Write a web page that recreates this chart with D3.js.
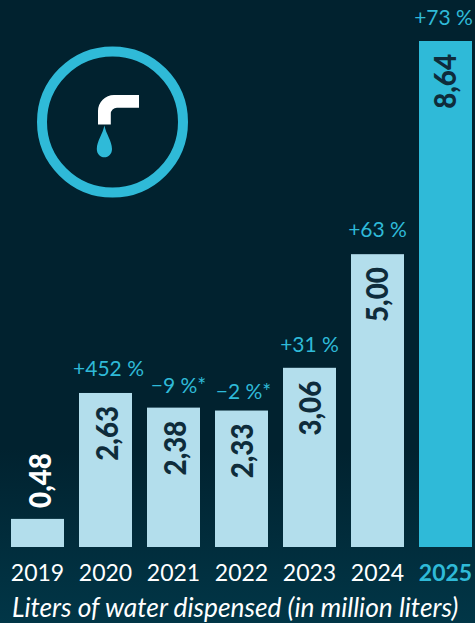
<!DOCTYPE html>
<html>
<head>
<meta charset="utf-8">
<script src="https://cdn.jsdelivr.net/npm/d3@7/dist/d3.min.js"></script>
<style>
  html, body { margin: 0; padding: 0; background: #01222f; }
  svg { display: block; }
  text { font-family: Lato, "Open Sans", sans-serif; }
</style>
</head>
<body>
<svg id="chart" width="475" height="623"></svg>
<script>
const years = ["2019", "2020", "2021", "2022", "2023", "2024", "2025"];
const liters = [0.48, 2.63, 2.38, 2.33, 3.06, 5.00, 8.64];
const valueLabels = ["0,48", "2,63", "2,38", "2,33", "3,06", "5,00", "8,64"];
const changeLabels = ["", "+452 %", "−9 %*", "−2 %*", "+31 %", "+63 %", "+73 %"];
const caption = "Liters of water dispensed (in million liters)";

const W = 475, H = 623, baseY = 547;
const CYAN = "#2fbad8", PALE = "#b3deec", INK = "#0e2c3b";

// Distance of each change label's baseline above its bar, and its sideways shift
const changeLift = [0, 17, 15, 12, 16, 17, 16];
const changeShift = [0, 3, 5, 2, 0, 0, -2];
// Offset of each rotated value's baseline from the bar's centre line
const valueShift = [13, 12.8, 12.5, 11.8, 11, 10.8, 10.5];

const svg = d3.select("#chart");
const defs = svg.append("defs");
const bg = defs.append("linearGradient").attr("id", "bg")
  .attr("x1", 0).attr("y1", 0).attr("x2", 0).attr("y2", 1);
bg.append("stop").attr("offset", 0.72).attr("stop-color", "#01222f");
bg.append("stop").attr("offset", 1).attr("stop-color", "#013647");
svg.append("rect").attr("width", W).attr("height", H).attr("fill", "url(#bg)");

const x = d3.scaleBand().domain(years).range([11, 472]).paddingInner(15 / 68).paddingOuter(0);
const y = d3.scaleLinear().domain([0, 8.64]).range([baseY, 41]);

// Bars
svg.append("g").selectAll("rect").data(years).join("rect")
  .attr("x", d => x(d))
  .attr("width", x.bandwidth())
  .attr("y", (d, i) => y(liters[i]))
  .attr("height", (d, i) => baseY - y(liters[i]))
  .attr("fill", (d, i) => i === years.length - 1 ? CYAN : PALE);

// Rotated value labels: inside the bar, or above it when the bar is too short
svg.append("g").selectAll("text").data(years).join("text")
  .attr("transform", (d, i) => {
    const inside = liters[i] > 1;
    const py = inside ? y(liters[i]) + 13 : y(liters[i]) - 11;
    return `translate(${x(d) + x.bandwidth() / 2 + valueShift[i]},${py}) rotate(-90) scale(0.94,1)`;
  })
  .attr("text-anchor", (d, i) => liters[i] > 1 ? "end" : "start")
  .attr("font-size", 29.5)
  .attr("font-weight", 900)
  .attr("fill", (d, i) => liters[i] > 1 ? INK : "#ffffff")
  .text((d, i) => valueLabels[i]);

// Year-over-year change labels
svg.append("g").selectAll("text").data(years).join("text")
  .attr("x", (d, i) => x(d) + x.bandwidth() / 2 + changeShift[i])
  .attr("y", (d, i) => y(liters[i]) - changeLift[i])
  .attr("text-anchor", "middle")
  .attr("font-size", 21)
  .attr("fill", CYAN)
  .text((d, i) => changeLabels[i]);

// Category axis
const axis = svg.append("g").attr("transform", `translate(0,${baseY})`)
  .call(d3.axisBottom(x).tickSize(0).tickPadding(18));
axis.select(".domain").remove();
axis.selectAll("text")
  .attr("font-family", "Lato, sans-serif")
  .attr("font-size", 23)
  .attr("fill", (d, i) => i === years.length - 1 ? CYAN : "#ffffff")
  .attr("font-weight", (d, i) => i === years.length - 1 ? 700 : 400);

svg.append("text")
  .attr("x", 12).attr("y", 617)
  .attr("font-size", 26.3)
  .attr("font-style", "italic")
  .attr("fill", "#ffffff")
  .text(caption);

// Tap emblem
const icon = svg.append("g");
icon.append("circle")
  .attr("cx", 112.5).attr("cy", 122).attr("r", 70.5)
  .attr("fill", "none").attr("stroke", CYAN).attr("stroke-width", 10);
const pipe = d3.path();
pipe.moveTo(98, 124.5);
pipe.lineTo(98, 111);
pipe.arcTo(98, 95, 114, 95, 16);
pipe.lineTo(139, 95);
pipe.lineTo(139, 107.7);
pipe.lineTo(117, 107.7);
pipe.arcTo(110.8, 107.7, 110.8, 114, 6.2);
pipe.lineTo(110.8, 124.5);
pipe.closePath();
icon.append("path").attr("d", pipe.toString()).attr("fill", "#ffffff");
const drop = d3.path();
drop.moveTo(104.4, 125.5);
drop.bezierCurveTo(106, 134, 112, 141, 112, 149);
drop.bezierCurveTo(112, 154, 108.5, 157.3, 104.4, 157.3);
drop.bezierCurveTo(100.3, 157.3, 96.8, 154, 96.8, 149);
drop.bezierCurveTo(96.8, 141, 102.8, 134, 104.4, 125.5);
drop.closePath();
icon.append("path").attr("d", drop.toString()).attr("fill", CYAN);
</script>
</body>
</html>
